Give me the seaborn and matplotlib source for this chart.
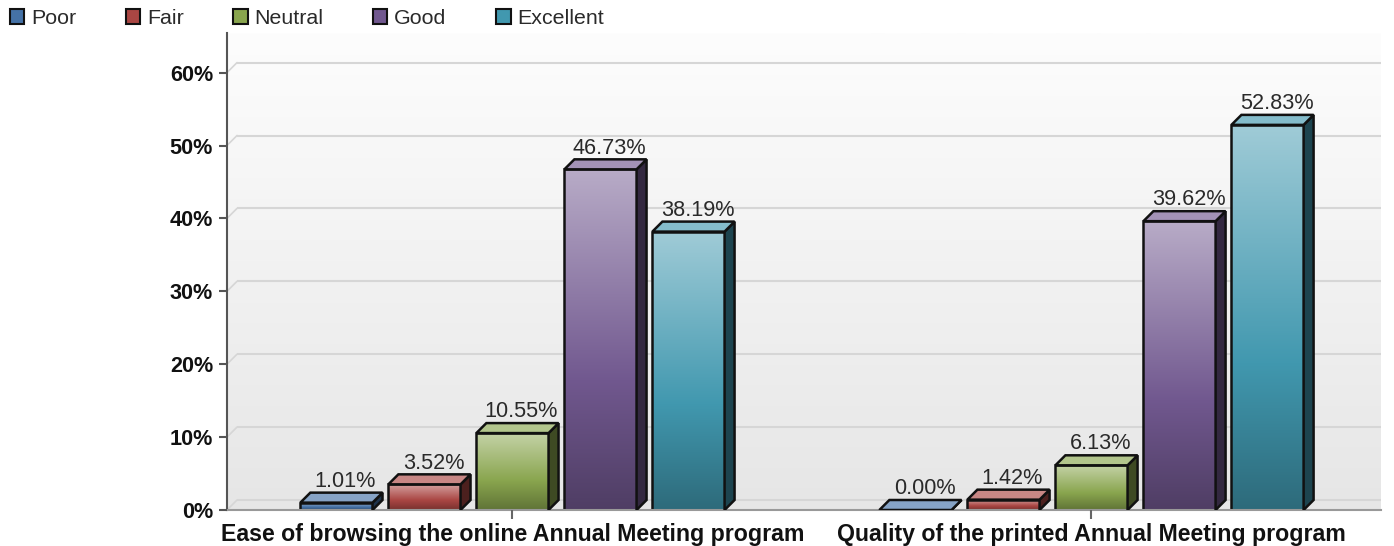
import numpy as np
import pandas as pd
import matplotlib
matplotlib.use("Agg")
import matplotlib.pyplot as plt
from matplotlib.patches import Polygon, Patch
from matplotlib.transforms import Affine2D, IdentityTransform
from matplotlib.colors import to_rgb, LinearSegmentedColormap
import seaborn as sns

items = ["Ease of browsing the online Annual Meeting program",
         "Quality of the printed Annual Meeting program"]
ratings = ["Poor", "Fair", "Neutral", "Good", "Excellent"]
poor = [1.01, 0.00]
fair = [3.52, 1.42]
neutral = [10.55, 6.13]
good = [46.73, 39.62]
excellent = [38.19, 52.83]
colors = ["#4572A7", "#AA4643", "#89A54E", "#71588F", "#4198AF"]
yticks = [0, 10, 20, 30, 40, 50, 60]

W, H = 1394, 546
FONT = "Liberation Sans"
plt.rcParams["font.family"] = [FONT, "DejaVu Sans"]
sns.set_style("white")
plt.rcParams["font.family"] = [FONT, "DejaVu Sans"]

df = pd.DataFrame({
    "Item": items * 5,
    "Rating": np.repeat(ratings, 2),
    "Score": poor + fair + neutral + good + excellent,
})

fig = plt.figure(figsize=(W / 100, H / 100), dpi=100)
L, R, T, B = 227, 1381, 33, 510
ax = fig.add_axes([L / W, 1 - B / H, (R - L) / W, (B - T) / H])
sns.barplot(data=df, x="Item", y="Score", hue="Rating", hue_order=ratings, order=items,
            palette=colors, width=0.76, gap=0.18, legend=False, ax=ax,
            edgecolor="#111111", linewidth=1.8, errorbar=None, saturation=1)
ax.set_xlim(-0.493, 1.5)
ax.set_ylim(0, (B - T) / 7.29)
ax.set_xlabel("")
ax.set_ylabel("")
ax.set_facecolor("none")


def mix(c, other, t):
    c = np.array(to_rgb(c))
    return tuple(c * (1 - t) + np.array(other) * t)


# background gradient
bg = LinearSegmentedColormap.from_list("bg", ["#FDFDFD", "#E6E6E6"])
ax.imshow(np.linspace(0, 1, 256)[:, None], cmap=bg, aspect="auto", zorder=0,
          extent=(*ax.get_xlim(), *ax.get_ylim()), origin="upper")
ax.set_xlim(-0.493, 1.5)
ax.set_ylim(0, (B - T) / 7.29)

# back wall and floor grid, shifted by the 3D depth
DX, DY = 10, 10
shift = ax.transData + Affine2D().translate(DX, DY)
px_to_x = (ax.get_xlim()[1] - ax.get_xlim()[0]) / (R - L)
xl, xr = ax.get_xlim()
for yv in yticks:
    ax.plot([xl, xr - DX * px_to_x], [yv, yv], transform=shift, color="#D6D6D6", lw=1.5,
            zorder=0.5, solid_capstyle="butt")
    ax.plot([xl, xl + DX * px_to_x], [yv, yv + DY / 7.29], color="#D6D6D6", lw=1.2, zorder=0.5)

fig.canvas.draw()
bars = list(ax.patches)
labels = poor + fair + neutral + good + excellent
for bar, val in zip(bars, labels):
    base = bar.get_facecolor()
    x0, w, h = bar.get_x(), bar.get_width(), bar.get_height()
    (px0, py0), (px1, py1) = ax.transData.transform([(x0, 0), (x0 + w, h)])
    # side and top faces
    ax.add_patch(Polygon([(px1, py0), (px1 + DX, py0 + DY), (px1 + DX, py1 + DY), (px1, py1)],
                         closed=True, transform=IdentityTransform(),
                         facecolor=mix(base, (0, 0, 0), 0.55), edgecolor="#111111", lw=1.8, zorder=3))
    ax.add_patch(Polygon([(px0, py1), (px0 + DX, py1 + DY), (px1 + DX, py1 + DY), (px1, py1)],
                         closed=True, transform=IdentityTransform(),
                         facecolor=mix(base, (1, 1, 1), 0.35), edgecolor="#111111", lw=1.8, zorder=3))
    # gradient front face
    if h > 0:
        cmap = LinearSegmentedColormap.from_list(
            "f", [(0, mix(base, (1, 1, 1), 0.50)), (0.62, mix(base, (0, 0, 0), 0.0)),
                  (1, mix(base, (0, 0, 0), 0.30))])
        ax.imshow(np.linspace(0, 1, 256)[:, None], cmap=cmap, aspect="auto", zorder=2,
                  extent=(x0, x0 + w, 0, h), origin="upper")
    bar.set_zorder(2.5)
    bar.set_facecolor("none")
    ax.annotate(f"{val:.2f}%", xy=(x0 + w / 2, h), xytext=(6.5, 7.8), textcoords="offset points",
                ha="center", va="bottom", fontsize=15.6, color="#2A2A2A", zorder=5)

ax.set_xlim(-0.493, 1.5)
ax.set_ylim(0, (B - T) / 7.29)

ax.set_yticks(yticks)
ax.set_yticklabels([f"{v}%" for v in yticks], fontsize=15.6, fontweight="bold", color="#111111")
ax.set_xticks([0, 1])
ax.set_xticklabels(items, fontsize=16.7, fontweight="bold", color="#111111")
ax.tick_params(axis="y", length=6, width=1.5, color="#555555", pad=4, left=True)
ax.tick_params(axis="x", length=6.5, width=1.5, color="#666666", pad=3, bottom=True)
for s in ["top", "right"]:
    ax.spines[s].set_visible(False)
ax.spines["left"].set_color("#555555")
ax.spines["left"].set_linewidth(1.5)
ax.spines["bottom"].set_color("#999999")
ax.spines["bottom"].set_linewidth(1.5)
ax.set_axisbelow(False)

handles = [Patch(facecolor=c, edgecolor="#111111", lw=1.5) for c in colors]
fig.legend(handles, ratings, loc="upper left", bbox_to_anchor=(10 / W, 1 - 9 / H),
           bbox_transform=fig.transFigure, ncols=5, frameon=False, fontsize=15.4,
           handlelength=0.66, handleheight=0.66, handletextpad=0.32, columnspacing=2.33,
           borderpad=0, borderaxespad=0, labelcolor="#2A2A2A")

fig.savefig("out.png", dpi=100)
